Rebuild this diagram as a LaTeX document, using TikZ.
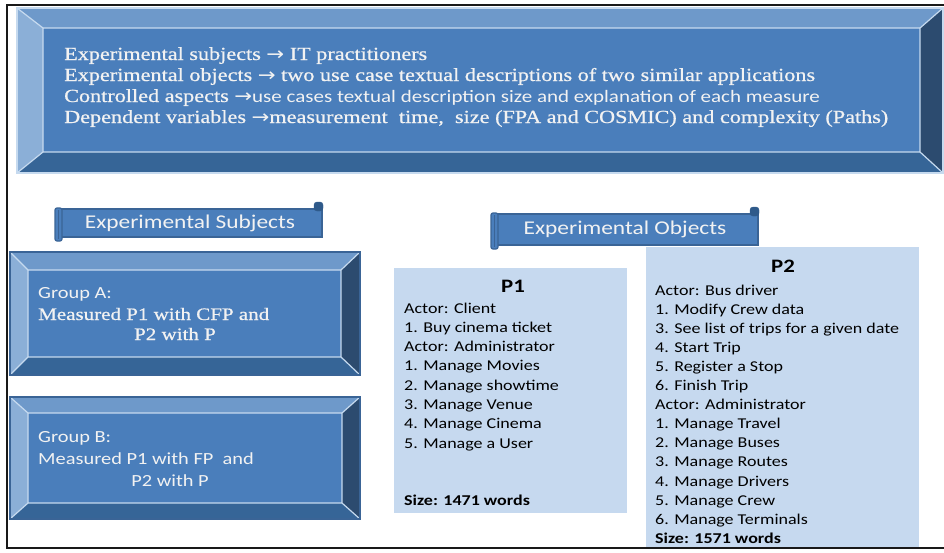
\documentclass[tikz,border=0pt]{standalone}
\usepackage{fontspec}
\setmainfont[FakeStretch=1.2]{Liberation Serif}
\newfontfamily\heavyserif[FakeStretch=1.2,FakeBold=0.7]{Liberation Serif}
\newfontfamily\calfont[FakeStretch=1.2]{Carlito}
\newfontfamily\arrfont[FakeStretch=1.15]{DejaVu Sans}
\newcommand\rarr{{\arrfont →}}
\definecolor{bvface}{HTML}{4A7EBB}
\definecolor{bvtop}{HTML}{6E99CA}
\definecolor{bvleft}{HTML}{8BAFD7}
\definecolor{bvright}{HTML}{2C4B6F}
\definecolor{bvbottom}{HTML}{366597}
\definecolor{bvlight}{HTML}{C6DAEF}
\definecolor{bvdark}{HTML}{3A6496}
\definecolor{pfill}{HTML}{C6D9EF}
\definecolor{wtext}{HTML}{F2F2F2}
\definecolor{scrolldark}{HTML}{2F5A8A}

% bevelled panel: corners (#1,#2)-(#3,#4), bevel widths left/top/right/bottom, edge colour #9
\newcommand\bevelbox[9]{%
  \fill[bvface] (#1,#2) rectangle (#3,#4);
  \fill[bvtop] (#1,#2) -- (#3,#2) -- ({#3-#7},{#2+#6}) -- ({#1+#5},{#2+#6}) -- cycle;
  \fill[bvleft] (#1,#2) -- ({#1+#5},{#2+#6}) -- ({#1+#5},{#4-#8}) -- (#1,#4) -- cycle;
  \fill[bvright] (#3,#2) -- (#3,#4) -- ({#3-#7},{#4-#8}) -- ({#3-#7},{#2+#6}) -- cycle;
  \fill[bvbottom] (#1,#4) -- ({#1+#5},{#4-#8}) -- ({#3-#7},{#4-#8}) -- (#3,#4) -- cycle;
  \draw[bvlight, line width=1.2pt] ({#1+#5},{#2+#6}) rectangle ({#3-#7},{#4-#8})
     (#1,#2) -- ({#1+#5},{#2+#6}) (#3,#2) -- ({#3-#7},{#2+#6})
     (#1,#4) -- ({#1+#5},{#4-#8}) (#3,#4) -- ({#3-#7},{#4-#8});
  \draw[#9, line width=1.6pt] (#1,#2) rectangle (#3,#4);
}

% scroll-shaped banner: body (#1,#2)-(#3,#4)
\newcommand\scrollbanner[4]{%
  \draw[bvdark, fill=bvface, line width=1.2pt] ({#1+4},#2) rectangle (#3,#4);
  \draw[bvdark, fill=bvface, line width=1.2pt, rounded corners=2pt] (#1,{#2-1}) rectangle ({#1+7},{#4+4});
  \draw[bvdark, line width=0.8pt] ({#1+3.5},{#2+1}) -- ({#1+3.5},{#4+2});
  \draw[scrolldark, fill=scrolldark, rounded corners=3pt] ({#3-8},{#2-7}) rectangle ({#3+1},{#2+2});
}

\begin{document}
\begin{tikzpicture}[x=1pt, y=-1pt,
  toptext/.style={anchor=base west, inner sep=0pt, text=wtext, font=\heavyserif\fontsize{18.5}{20}\selectfont},
  grptext/.style={anchor=base west, inner sep=0pt, text=wtext},
  bantext/.style={anchor=base, inner sep=0pt, text=wtext, font=\calfont\fontsize{19.5}{20}\selectfont},
  ptext/.style={anchor=base west, inner sep=0pt, text=black, font=\calfont\fontsize{15}{16}\selectfont},
  ptitle/.style={anchor=base, inner sep=0pt, text=black, font=\calfont\bfseries\fontsize{19}{20}\selectfont}]
\useasboundingbox (0,0) rectangle (944,552);
\fill[white] (0,0) rectangle (944,552);

% heading panel
\bevelbox{17}{8}{943}{173}{26}{20}{23}{21}{bvlight}
\node[toptext] (h1) at (64,60) {Experimental subjects \rarr\ IT practitioners};
\node[toptext] (h2) at (64,81) {Experimental objects \rarr\ two use case textual descriptions of two similar applications};
\node[toptext] (h3) at (64,102) {Controlled aspects \rarr{\calfont\fontsize{17.5}{20}\selectfont use cases textual description size and explanation of each measure}};
\node[toptext] (h4) at (64,123) {Dependent variables \rarr measurement\ \ time,\ \ size (FPA and COSMIC) and complexity (Paths)};

% subjects
\scrollbanner{55}{209}{322}{237}
\node[bantext] (bs) at (190,228.5) {Experimental Subjects};
\bevelbox{10}{252}{360}{375}{18}{18}{19}{18}{bvdark}
\node[grptext, font=\calfont\fontsize{17}{20}\selectfont] (ga1) at (38,298) {Group A:};
\node[grptext, font=\heavyserif\fontsize{17.5}{20}\selectfont] (ga2) at (38,320) {Measured P1 with CFP and};
\node[grptext, font=\heavyserif\fontsize{17.5}{20}\selectfont, anchor=base] (ga3) at (175,340) {P2 with P};
\bevelbox{10}{397}{360}{519}{18}{16}{18}{16}{bvdark}
\node[grptext, font=\calfont\fontsize{17}{20}\selectfont] (gb1) at (38,442.5) {Group B:};
\node[grptext, font=\calfont\fontsize{17}{20}\selectfont] (gb2) at (38,464) {Measured P1 with FP\ \ and};
\node[grptext, font=\calfont\fontsize{17}{20}\selectfont, anchor=base] (gb3) at (170,486) {P2 with P};

% objects
\scrollbanner{491}{214}{758}{245}
\node[bantext] (bo) at (625,234) {Experimental Objects};
\fill[pfill] (394,268) rectangle (627,513);
\fill[pfill] (646,247) rectangle (919,548);

\node[ptitle] (p1) at (513,292) {P1};
\foreach \t [count=\i from 0] in {Actor: Client, 1. Buy cinema ticket, Actor: Administrator,
  1. Manage Movies, 2. Manage showtime, 3. Manage Venue, 4. Manage Cinema, 5. Manage a User}
  \node[ptext] (p1l\i) at (404,{313+19.3*\i}) {\t};
\node[ptext, font=\calfont\bfseries\fontsize{15}{16}\selectfont] (p1s) at (404,505) {Size: 1471 words};

\node[ptitle] (p2) at (783,272) {P2};
\foreach \t [count=\i from 0] in {Actor: Bus driver, 1. Modify Crew data, 3. See list of trips for a given date,
  4. Start Trip, 5. Register a Stop, 6. Finish Trip, Actor: Administrator, 1. Manage Travel,
  2. Manage Buses, 3. Manage Routes, 4. Manage Drivers, 5. Manage Crew, 6. Manage Terminals}
  \node[ptext] (p2l\i) at (655,{295+19.1*\i}) {\t};
\node[ptext, font=\calfont\bfseries\fontsize{15}{16}\selectfont] (p2s) at (655,543.3) {Size: 1571 words};

% outer frame
\draw[line width=2pt, black!90] (944,5) -- (7,5) -- (7,548) -- (944,548);
\end{tikzpicture}
\end{document}
